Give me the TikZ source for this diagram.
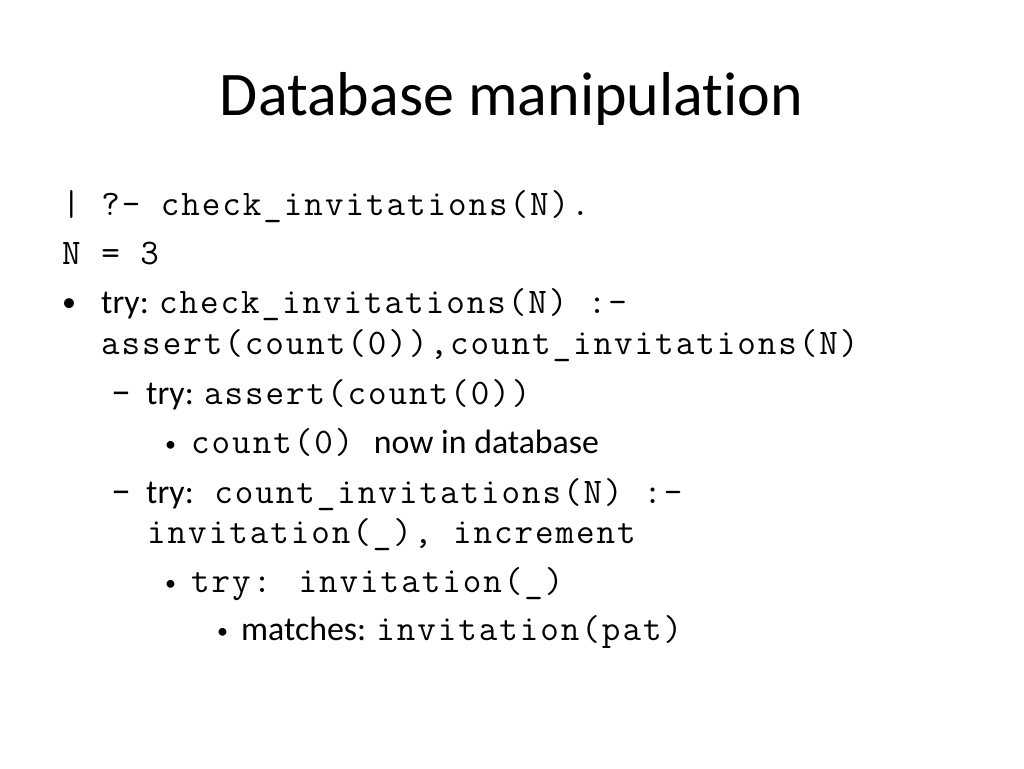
\documentclass[tikz,border=0pt]{standalone}
\usepackage{fontspec}
\setmainfont{Carlito}[Ligatures={TeX,NoCommon}]
\newfontfamily\codefont{Latin Modern Mono}[LetterSpace=5.5]
\newcommand{\code}[1]{{\codefont\fontsize{36}{40}\selectfont #1}}
\begin{document}
\begin{tikzpicture}
[x=1pt,y=-1pt,%
  titledecorate/.style={anchor=base,inner sep=0pt,font=\fontsize{62}{70}\selectfont},%
  linedecorate/.style={anchor=base west,inner sep=0pt,font=\fontsize{33.8}{40}\selectfont},%
  markdecorate/.style={anchor=base west,inner sep=0pt,font=\fontsize{#1}{40}\selectfont},%
  markdecorate/.default=26]
\useasboundingbox (0,0) rectangle (1024,768);
%% title
\node (title) at (511.5,115) [titledecorate] {Database manipulation};
%% plain lines
\node (query) at (62,215) [linedecorate] {\code{| ?- check\_invitations(N).}};
\node (answer) at (62,264) [linedecorate] {\code{N = 3}};
%% bullet marks
\foreach \markname/\x/\y/\mark/\size in {
  m1/62/311/\textbullet/28, m2/111/404/\textendash/40, m3/165/451/\textbullet/22,
  m4/111/503/\textendash/40, m5/165/590/\textbullet/22, m6/217/638/\textbullet/22} {
  \node (\markname) at (\x,\y) [markdecorate=\size] {\mark};
}
%% bullet texts
\node (try1) at (101,313) [linedecorate] {try: \code{check\_invitations(N) :-}};
\node (try1b) at (101,354) [linedecorate] {\code{assert(count(0)),count\_invitations(N)}};
\node (try2) at (146,404) [linedecorate] {try: \code{assert(count(0))}};
\node (count) at (191,453) [linedecorate] {\code{count(0)~}now in database};
\node (try3) at (146,503) [linedecorate] {try:\code{~count\_invitations(N) :-}};
\node (try3b) at (147,543) [linedecorate] {\code{invitation(\_), increment}};
\node (try4) at (191,592) [linedecorate] {\code{try: invitation(\_)}};
\node (match) at (241,640) [linedecorate] {matches: \code{invitation(pat)}};
\end{tikzpicture}
\end{document}
